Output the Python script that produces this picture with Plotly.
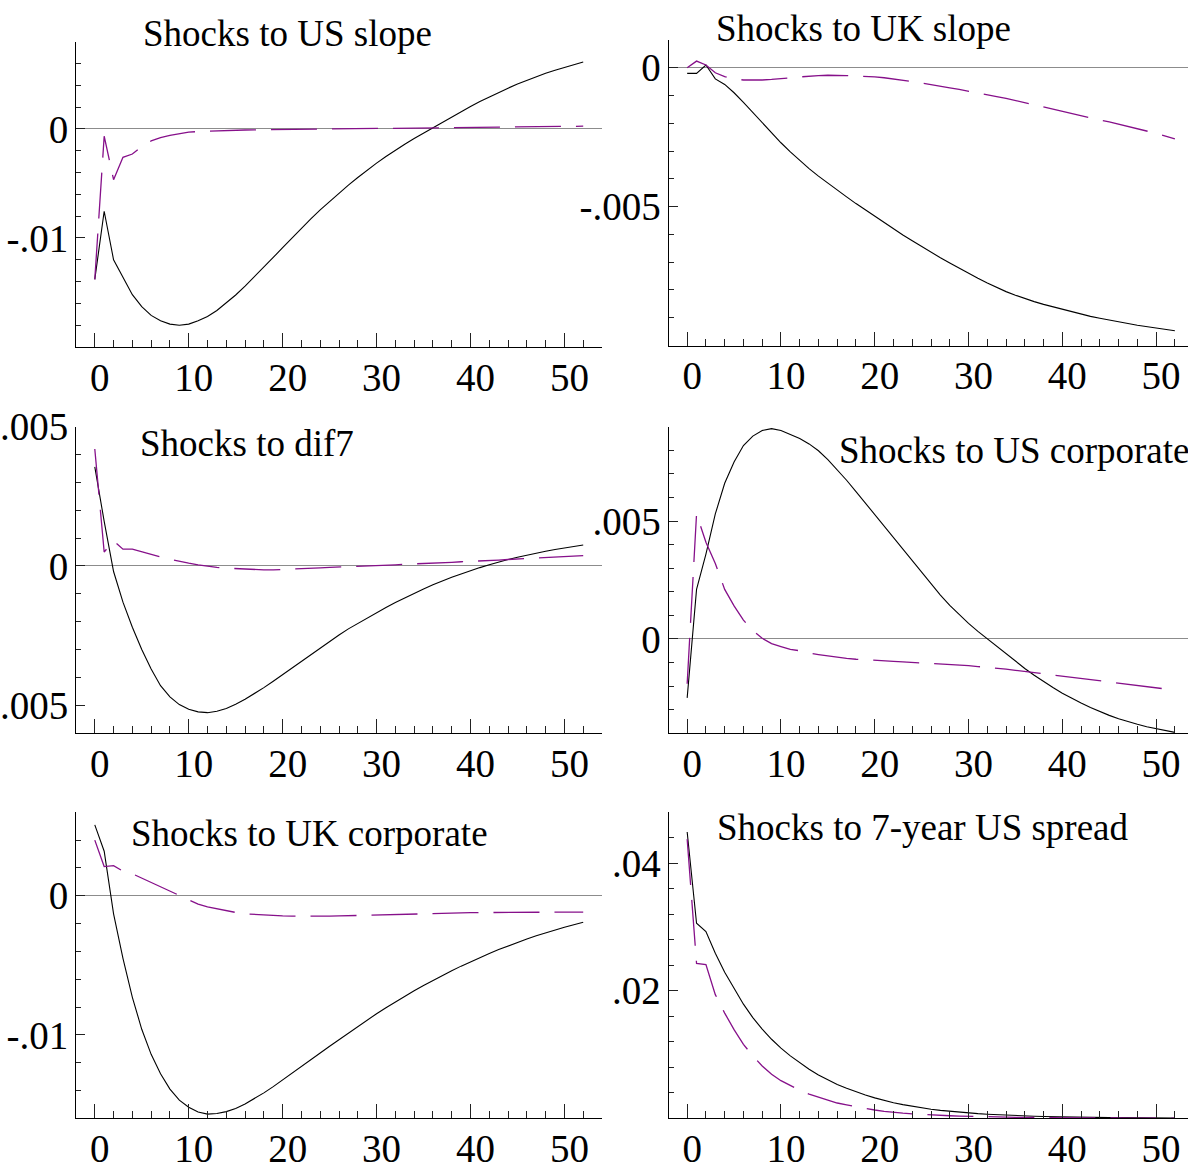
import plotly.graph_objects as go

# Impulse responses over a 52-step horizon: solid = response, dashed = comparison response
horizon = list(range(53))

us_slope_solid = [
    -0.0138, -0.00755, -0.0120, -0.0136, -0.0152, -0.0163, -0.0171, -0.0176, -0.0179, -0.0180,
    -0.0179, -0.0176, -0.0172, -0.01665, -0.01598, -0.01523, -0.01442, -0.01357, -0.01269, -0.01179,
    -0.01088, -0.00998, -0.0091, -0.00825, -0.00743, -0.00664, -0.00588, -0.00515, -0.00445, -0.00378,
    -0.00314, -0.00253, -0.00195, -0.0014, -0.00088, -0.00038, 0.0001, 0.0006, 0.0011, 0.00159,
    0.00206, 0.00251, 0.00294, 0.00335, 0.00374, 0.00411, 0.00446, 0.00479, 0.0051, 0.00539,
    0.00566, 0.00591, 0.00614]
us_slope_dashed = [
    -0.0138, -0.00067, -0.00465, -0.0026, -0.0023, -0.0016, -0.0011, -0.0008, -0.0006, -0.00043,
    -0.0003, -0.00024, -0.0002, -0.00016, -0.00013, -0.0001, -0.0001, -0.00008, -0.00007, -0.00006,
    -0.00005, -0.00004, -0.00004, -0.00003, -0.00003, -0.00002, -0.00002, -0.00001, -0.00001, 0.0,
    0.0, 0.00001, 0.00002, 0.00003, 0.00004, 0.00005, 0.00006, 0.00007, 0.00008, 0.00009,
    0.0001, 0.00011, 0.00012, 0.00013, 0.00014, 0.00015, 0.00016, 0.00018, 0.00019, 0.0002,
    0.00021, 0.00023, 0.00025]

uk_slope_solid = [
    -0.0002, -0.0002, 0.0001, -0.0004, -0.0006, -0.0009, -0.00125, -0.00162, -0.00199, -0.00235,
    -0.0027, -0.00303, -0.00334, -0.00363, -0.0039, -0.00416, -0.00441, -0.00465, -0.00489, -0.00512,
    -0.00535, -0.00558, -0.0058, -0.00602, -0.00623, -0.00644, -0.00664, -0.00684, -0.00703, -0.00722,
    -0.0074, -0.00758, -0.00775, -0.00791, -0.00806, -0.00819, -0.00831, -0.00842, -0.00852, -0.00861,
    -0.0087, -0.00879, -0.00887, -0.00895, -0.00902, -0.00909, -0.00915, -0.00921, -0.00927, -0.00932,
    -0.00937, -0.00942, -0.00947]
uk_slope_dashed = [
    0.0, 0.00024, 0.0001, -0.00018, -0.00032, -0.0004, -0.00044, -0.00045, -0.00044, -0.00042,
    -0.0004, -0.00036, -0.00033, -0.0003, -0.00028, -0.00027, -0.00027, -0.00028, -0.0003, -0.00031,
    -0.00033, -0.00036, -0.0004, -0.00045, -0.0005, -0.00055, -0.0006, -0.00066, -0.00072, -0.00078,
    -0.00085, -0.00091, -0.00098, -0.00104, -0.0011, -0.00118, -0.00126, -0.00134, -0.00142, -0.0015,
    -0.00158, -0.00165, -0.00172, -0.0018, -0.00188, -0.00195, -0.00203, -0.00211, -0.00219, -0.00227,
    -0.00236, -0.00246, -0.00256]

dif7_solid = [
    0.00356, 0.0016, -0.0002, -0.0013, -0.0022, -0.0030, -0.0037, -0.0043, -0.0047, -0.00498,
    -0.00515, -0.00524, -0.00527, -0.00522, -0.00512, -0.00497, -0.00479, -0.00459, -0.00437, -0.00414,
    -0.0039, -0.00366, -0.00342, -0.00318, -0.00294, -0.00271, -0.00248, -0.00226, -0.00206, -0.00186,
    -0.00167, -0.00149, -0.00131, -0.00114, -0.00098, -0.00083, -0.00068, -0.00054, -0.00041, -0.00029,
    -0.00017, -0.00006, 0.00004, 0.00014, 0.00023, 0.00031, 0.00039, 0.00046, 0.00053, 0.00059,
    0.00065, 0.0007, 0.00075]
dif7_dashed = [
    0.0042, 0.0005, 0.0009, 0.0006, 0.0006, 0.0005, 0.0004, 0.00032, 0.00024, 0.00016,
    0.0001, 0.00004, -0.00001, -0.00005, -0.00008, -0.0001, -0.00012, -0.00013, -0.00014, -0.00014,
    -0.00013, -0.00012, -0.0001, -0.00009, -0.00007, -0.00005, -0.00004, -0.00002, -0.00001, 0.0,
    0.00001, 0.00003, 0.00004, 0.00006, 0.00007, 0.00009, 0.0001, 0.00012, 0.00013, 0.00015,
    0.00016, 0.00018, 0.0002, 0.00021, 0.00023, 0.00025, 0.00027, 0.00028, 0.0003, 0.00031,
    0.00033, 0.00035, 0.00037]

us_corp_solid = [
    -0.0025, 0.0021, 0.0036, 0.0053, 0.0066, 0.0075, 0.0082, 0.0086, 0.00884, 0.00892,
    0.00884, 0.00868, 0.0085, 0.00827, 0.00798, 0.0076, 0.00718, 0.00673, 0.00625, 0.00576,
    0.00526, 0.00476, 0.00427, 0.00378, 0.00329, 0.0028, 0.00232, 0.00186, 0.00142, 0.00102,
    0.00066, 0.00032, 0.0, -0.00033, -0.00065, -0.00096, -0.00125, -0.00154, -0.00181, -0.00206,
    -0.0023, -0.00252, -0.00272, -0.00291, -0.00308, -0.00324, -0.00338, -0.00351, -0.00362, -0.00372,
    -0.00381, -0.00389, -0.00396]
us_corp_dashed = [
    -0.0019, 0.0053, 0.0041, 0.0032, 0.0021, 0.0014, 0.0008, 0.00035, 0.00003, -0.0002,
    -0.00032, -0.00044, -0.0005, -0.0006, -0.00066, -0.00072, -0.00078, -0.00082, -0.00086, -0.00089,
    -0.00091, -0.00093, -0.00095, -0.00097, -0.00099, -0.001, -0.00102, -0.00104, -0.00106, -0.00108,
    -0.00113, -0.00117, -0.0012, -0.00124, -0.00128, -0.00133, -0.00138, -0.00144, -0.0015, -0.00155,
    -0.0016, -0.00165, -0.0017, -0.00175, -0.0018, -0.00185, -0.0019, -0.00195, -0.002, -0.00204,
    -0.00208, -0.00212, -0.00216]

uk_corp_solid = [
    0.0051, 0.0032, -0.0013, -0.0045, -0.0073, -0.0096, -0.0114, -0.0128, -0.0139, -0.0147,
    -0.0152, -0.01555, -0.0157, -0.01565, -0.01552, -0.01529, -0.01497, -0.01459, -0.01417, -0.01372,
    -0.01325, -0.01277, -0.01229, -0.0118, -0.01131, -0.01082, -0.01034, -0.00986, -0.00939, -0.00893,
    -0.00848, -0.00805, -0.00763, -0.00722, -0.00683, -0.00645, -0.00608, -0.00573, -0.00539, -0.00506,
    -0.00474, -0.00444, -0.00415, -0.00387, -0.0036, -0.00335, -0.00311, -0.00288, -0.00266, -0.00245,
    -0.00226, -0.00208, -0.00191]
uk_corp_dashed = [
    0.0040, 0.0021, 0.00216, 0.00177, 0.00158, 0.00127, 0.00096, 0.0006, 0.0003, 0.0,
    -0.0003, -0.0006, -0.0008, -0.00095, -0.0011, -0.0012, -0.0013, -0.00135, -0.0014, -0.00143,
    -0.00145, -0.00146, -0.00147, -0.00147, -0.00147, -0.00146, -0.00145, -0.00143, -0.00141, -0.00139,
    -0.00137, -0.00135, -0.00134, -0.00132, -0.00131, -0.0013, -0.00128, -0.00127, -0.00125, -0.00124,
    -0.00122, -0.00121, -0.0012, -0.0012, -0.00119, -0.00119, -0.00118, -0.00118, -0.00118, -0.00117,
    -0.00117, -0.00117, -0.00117]

spread7_solid = [
    0.0449, 0.0306, 0.0293, 0.0259, 0.0229, 0.0203, 0.0179, 0.0158, 0.0140, 0.0124,
    0.0110, 0.0098, 0.0087, 0.0077, 0.0068, 0.0060, 0.0053, 0.0047, 0.00415, 0.00365,
    0.0032, 0.0028, 0.00245, 0.00214, 0.00187, 0.00164, 0.00143, 0.00125, 0.0011, 0.00096,
    0.00084, 0.00073, 0.00064, 0.00056, 0.00049, 0.00043, 0.00038, 0.00033, 0.00029, 0.00025,
    0.00022, 0.00019, 0.00017, 0.00015, 0.00013, 0.00011, 0.0001, 0.00009, 0.00008, 0.00007,
    0.00006, 0.00005, 0.00005]
spread7_dashed = [
    0.0438, 0.0243, 0.0241, 0.0194, 0.0165, 0.0139, 0.0116, 0.0098, 0.0082, 0.0069,
    0.0059, 0.0051, 0.0044, 0.0038, 0.0033, 0.0028, 0.0024, 0.0021, 0.0018, 0.0015,
    0.0013, 0.0011, 0.0009, 0.0008, 0.0007, 0.0006, 0.0005, 0.00045, 0.0004, 0.00035,
    0.0003, 0.00026, 0.00023, 0.0002, 0.00018, 0.00016, 0.00014, 0.00012, 0.00011, 0.0001,
    0.00009, 0.00008, 0.00007, 0.00006, 0.00006, 0.00005, 0.00005, 0.00004, 0.00004, 0.00004,
    0.00003, 0.00003, 0.00003]

panel_titles = ["Shocks to US slope", "Shocks to UK slope", "Shocks to dif7",
                "Shocks to US corporate", "Shocks to UK corporate", "Shocks to 7-year US spread"]
solid_series = [us_slope_solid, uk_slope_solid, dif7_solid, us_corp_solid, uk_corp_solid, spread7_solid]
dashed_series = [us_slope_dashed, uk_slope_dashed, dif7_dashed, us_corp_dashed, uk_corp_dashed, spread7_dashed]

# y tick positions and their printed labels
y_tick_vals = [[-0.01, 0], [-0.005, 0], [-0.005, 0, 0.005], [0, 0.005], [-0.01, 0], [0.02, 0.04]]
y_tick_text = [["-.01", "0"], ["-.005", "0"], ["-.005", "0", ".005"], ["0", ".005"], ["-.01", "0"], [".02", ".04"]]
y_minor_step = [0.002, 0.001, 0.001, 0.001, 0.002, 0.004]
y_ranges = [[-0.0200, 0.008], [-0.010, 0.001], [-0.006, 0.005], [-0.004, 0.009], [-0.016, 0.006], [0.0, 0.048]]
x_tick_vals = [0, 10, 20, 30, 40, 50]

# ---- layout in pixels ----
W, H = 1188, 1167
SERIF = "Liberation Serif"
# plot boxes: (left, right, top, bottom)
boxes = [(76, 602, 41.7, 347.0), (668.6, 1188, 40.0, 345.5),
         (76, 602, 426.7, 733.0), (668.6, 1188, 426.7, 733.3),
         (76, 602, 812.3, 1118.3), (668.6, 1188, 812.3, 1118.3)]
x_ranges = [[-2, 54], [-1.98, 53.4]] * 3
# title anchor: (left x, vertical centre of the text line)
title_pos = [(140.5, 33.9), (714, 28.0), (138.0, 443.9), (836.5, 450.5), (129, 833.3), (714.5, 827.1)]

fig = go.Figure()
layout = dict(width=W, height=H, margin=dict(l=0, r=0, t=0, b=0, autoexpand=False),
              paper_bgcolor="white", plot_bgcolor="white", showlegend=False,
              annotations=[])

for i in range(6):
    n = "" if i == 0 else str(i + 1)
    left, right, top, bottom = boxes[i]
    fig.add_trace(go.Scatter(x=horizon, y=solid_series[i], mode="lines",
                             line=dict(color="black", width=1.1),
                             xaxis="x" + n, yaxis="y" + n, hoverinfo="skip"))
    fig.add_trace(go.Scatter(x=horizon, y=dashed_series[i], mode="lines",
                             line=dict(color="#86108a", width=1.3, dash="46px,15px"),
                             xaxis="x" + n, yaxis="y" + n, hoverinfo="skip"))
    layout["xaxis" + n] = dict(
        domain=[left / W, right / W], anchor="y" + n, range=x_ranges[i], automargin=False,
        showline=True, linecolor="black", linewidth=1, mirror=False,
        showgrid=False, zeroline=False,
        tickmode="array", tickvals=x_tick_vals, ticktext=[str(v) for v in x_tick_vals],
        ticks="inside", ticklen=14, tickwidth=1, tickcolor="#222",
        minor=dict(tickmode="linear", tick0=0, dtick=2, ticks="inside", ticklen=7,
                   tickwidth=1, tickcolor="#222", showgrid=False),
        tickfont=dict(family=SERIF, size=39, color="black"),
        ticklabelstandoff=-4, ticklabelshift=5, fixedrange=True)
    layout["yaxis" + n] = dict(
        domain=[1 - bottom / H, 1 - top / H], anchor="x" + n, range=y_ranges[i], automargin=False,
        showline=True, linecolor="black", linewidth=1, mirror=False,
        showgrid=False, zeroline=True, zerolinecolor="#8c8c8c", zerolinewidth=1,
        tickmode="array", tickvals=y_tick_vals[i], ticktext=y_tick_text[i],
        ticks="inside", ticklen=9, tickwidth=1, tickcolor="#222",
        minor=dict(tickmode="linear", tick0=0, dtick=y_minor_step[i], ticks="inside",
                   ticklen=5, tickwidth=1, tickcolor="#222", showgrid=False),
        tickfont=dict(family=SERIF, size=39, color="black"),
        ticklabelstandoff=-1, fixedrange=True)
    tx, ty = title_pos[i]
    layout["annotations"].append(dict(
        text=panel_titles[i], xref="paper", yref="paper", x=tx / W, y=1 - ty / H,
        xanchor="left", yanchor="middle", showarrow=False,
        font=dict(family=SERIF, size=37, color="black")))

fig.update_layout(**layout)
fig.write_html("out.html", config={"displayModeBar": False, "staticPlot": True})
